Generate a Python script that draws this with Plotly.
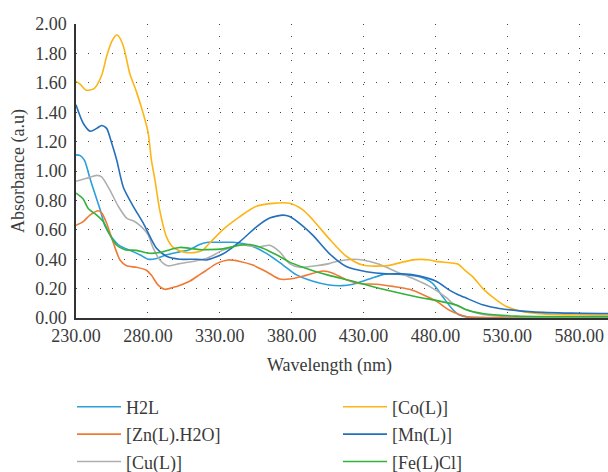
import plotly.graph_objects as go

# ---------------- data ----------------
h2l_wl = [230, 233, 236, 239.7, 243, 246.7, 250, 254.8, 260.6, 267.5, 274.4, 280.2, 286, 293, 302, 309, 316, 322, 330, 339,
          350.8, 362.4, 374, 383, 394.8, 406, 415, 422.6, 434, 445.8, 457.3, 469, 478, 485, 492, 496.7, 503, 515, 540, 600]
h2l_abs = [1.11, 1.105, 1.07, 0.95, 0.85, 0.74, 0.63, 0.55, 0.49, 0.46, 0.43, 0.40, 0.405, 0.43, 0.45, 0.465, 0.50, 0.515, 0.515, 0.515,
           0.495, 0.44, 0.36, 0.295, 0.25, 0.225, 0.22, 0.23, 0.265, 0.30, 0.295, 0.28, 0.235, 0.145, 0.058, 0.02, 0.006, 0.003, 0.002, 0.002]

zn_wl = [230, 235, 239.7, 245.5, 247.8, 251.3, 256, 260.6, 265.2, 272, 279, 282.5, 287, 291.8, 300, 309, 316, 320, 327.7, 335.8,
         344, 353, 362.4, 371.7, 378.6, 390, 401.7, 408.7, 418, 427, 438.8, 450.4, 462, 471, 480.5, 489.7, 496.7, 503, 515, 540, 600]
zn_abs = [0.63, 0.655, 0.70, 0.73, 0.715, 0.645, 0.51, 0.395, 0.355, 0.345, 0.325, 0.29, 0.225, 0.195, 0.215, 0.25, 0.295, 0.32, 0.37, 0.395,
          0.385, 0.36, 0.315, 0.265, 0.265, 0.29, 0.32, 0.305, 0.26, 0.235, 0.23, 0.215, 0.195, 0.16, 0.115, 0.053, 0.024, 0.006, 0.002, 0.001, 0.001]

cu_wl = [230, 237.4, 244.4, 247.8, 253.6, 259.4, 265.2, 271, 275.6, 280.2, 283.7, 288.3, 294, 302, 313.8, 320.7, 332, 344, 350.8, 357.8,
         364.7, 371.7, 378.6, 385.5, 397, 406, 411, 422.6, 429.5, 441, 452.7, 464, 475.8, 487.4, 492, 497, 501, 512.8, 536, 600]
cu_abs = [0.93, 0.95, 0.97, 0.96, 0.87, 0.76, 0.68, 0.655, 0.62, 0.565, 0.475, 0.395, 0.355, 0.37, 0.39, 0.405, 0.46, 0.50, 0.49, 0.485,
          0.495, 0.45, 0.37, 0.345, 0.355, 0.37, 0.385, 0.40, 0.395, 0.365, 0.315, 0.27, 0.215, 0.14, 0.10, 0.075, 0.057, 0.024, 0.008, 0.004]

co_wl = [230, 233, 237, 242.5, 247.8, 251.3, 254.8, 258.2, 259.4, 262.9, 267.5, 272, 276.8, 280.2, 282.5, 284.9, 288.3, 293, 297.6, 304.5,
         312, 318, 323, 332, 344, 355.5, 367, 378.6, 387.8, 394.8, 406, 418, 429.5, 445.8, 457, 466, 476, 480.5, 489.7, 495.5,
         501, 506, 513, 520, 529, 540, 555, 580, 600]
co_abs = [1.61, 1.59, 1.55, 1.56, 1.65, 1.78, 1.88, 1.925, 1.92, 1.85, 1.66, 1.54, 1.39, 1.26, 1.07, 0.94, 0.73, 0.55, 0.48, 0.45,
          0.445, 0.46, 0.51, 0.60, 0.69, 0.76, 0.78, 0.78, 0.735, 0.667, 0.54, 0.42, 0.36, 0.355, 0.38, 0.397, 0.395, 0.385, 0.376, 0.367,
          0.32, 0.28, 0.20, 0.14, 0.08, 0.045, 0.028, 0.02, 0.017]

mn_wl = [230, 235, 240, 244.4, 247.8, 251.3, 254.8, 258.3, 262.9, 269.8, 276.8, 281.4, 286, 293, 302, 313.8, 320.7, 332, 344, 355.5,
         364.7, 374, 378.6, 387.8, 395, 406, 418, 432, 445.8, 457, 469, 480.5, 489.7, 495.5, 501, 512.8, 524.4, 547.6, 575, 600]
mn_abs = [1.45, 1.325, 1.27, 1.29, 1.31, 1.29, 1.19, 1.075, 0.89, 0.76, 0.645, 0.555, 0.475, 0.42, 0.40, 0.40, 0.395, 0.435, 0.52, 0.62,
          0.68, 0.70, 0.69, 0.625, 0.56, 0.44, 0.35, 0.315, 0.30, 0.30, 0.285, 0.25, 0.19, 0.16, 0.137, 0.09, 0.065, 0.042, 0.033, 0.03]

fe_wl = [230, 235, 238.5, 244.4, 249, 253.6, 258.3, 264, 272, 281.4, 288.3, 295.3, 302, 309, 316, 320.7, 332, 344, 350.8, 360,
         369.4, 378.6, 387.8, 397, 406, 422.6, 445.8, 469, 480.5, 495.5, 501, 512.8, 536, 600]
fe_abs = [0.85, 0.81, 0.745, 0.70, 0.655, 0.565, 0.495, 0.465, 0.46, 0.44, 0.445, 0.465, 0.48, 0.475, 0.465, 0.465, 0.47, 0.495, 0.50, 0.475,
          0.43, 0.38, 0.345, 0.315, 0.29, 0.25, 0.19, 0.14, 0.12, 0.085, 0.058, 0.031, 0.013, 0.008]

x_ticks = [230, 280, 330, 380, 430, 480, 530, 580]
y_ticks = [0.0, 0.2, 0.4, 0.6, 0.8, 1.0, 1.2, 1.4, 1.6, 1.8, 2.0]

series = [
    ("H2L", h2l_wl, h2l_abs, "#2A9FDA", "legend"),
    ("[Zn(L).H2O]", zn_wl, zn_abs, "#F07A35", "legend"),
    ("[Cu(L)]", cu_wl, cu_abs, "#AFAFAF", "legend"),
    ("[Co(L)]", co_wl, co_abs, "#FDB515", "legend2"),
    ("[Mn(L)]", mn_wl, mn_abs, "#2470BC", "legend2"),
    ("[Fe(L)Cl]", fe_wl, fe_abs, "#33B23A", "legend2"),
]

FONT = "Liberation Serif, DejaVu Serif, serif"
TXT = "#3a3a3a"
FS = 18

fig = go.Figure()
for name, wl, ab, color, lg in series:
    fig.add_trace(go.Scatter(
        x=wl, y=ab, name=name, mode="lines",
        line=dict(color=color, width=1.6, shape="spline", smoothing=0.7),
        legend=lg, legendgroup=name,
    ))

grid_common = dict(showgrid=True, gridcolor="#444444", griddash="1px,11px", gridwidth=1,
                   zeroline=False, showline=True, linecolor="#333333", linewidth=1.5,
                   ticks="outside", tickcolor="rgba(0,0,0,0)",
                   tickfont=dict(family=FONT, size=FS, color=TXT))

fig.update_xaxes(range=[230, 600], tickvals=x_ticks, ticktext=[f"{v:.2f}" for v in x_ticks],
                 ticklen=1, **grid_common)
fig.update_yaxes(range=[0, 2], tickvals=y_ticks, ticktext=[f"{v:.2f}" for v in y_ticks],
                 ticklen=4, **grid_common)

# axis titles placed in paper coordinates
fig.add_annotation(text="Absorbance (a.u)", textangle=-90, showarrow=False,
                   xref="paper", yref="paper", x=(18 - 76) / 532, y=0.5,
                   xanchor="center", yanchor="middle",
                   font=dict(family=FONT, size=FS, color=TXT))
fig.add_annotation(text="Wavelength (nm)", showarrow=False,
                   xref="paper", yref="paper", x=(329 - 76) / 532, y=(318 - 365) / 294,
                   xanchor="center", yanchor="middle",
                   font=dict(family=FONT, size=FS, color=TXT))

leg_common = dict(font=dict(family=FONT, size=FS, color=TXT), bgcolor="rgba(0,0,0,0)",
                  xref="container", yref="container", xanchor="left", yanchor="top",
                  traceorder="grouped", tracegroupgap=1, itemwidth=44, orientation="v")

fig.update_layout(
    width=608, height=472,
    margin=dict(l=76, r=0, t=24, b=154, autoexpand=False),
    paper_bgcolor="white", plot_bgcolor="white",
    font=dict(family=FONT, size=FS, color=TXT),
    legend=dict(x=72 / 608, y=1 - 388.5 / 472, **leg_common),
    legend2=dict(x=338 / 608, y=1 - 388.5 / 472, **leg_common),
    showlegend=True,
)

fig.write_html("out.html", config={"displayModeBar": False},
               post_script="document.body.style.margin='0';document.body.style.overflow='hidden';")
